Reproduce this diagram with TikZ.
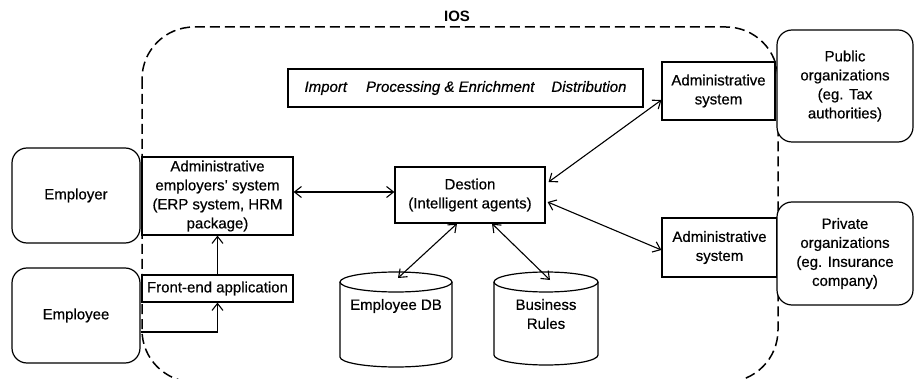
\documentclass[tikz,border=0pt]{standalone}
\usepackage{fontspec}
\setmainfont{Liberation Sans}[UprightFeatures={FakeBold=0.5},ItalicFeatures={FakeBold=0.5}]
\usetikzlibrary{arrows.meta}
\begin{document}
\begin{tikzpicture}[x=1pt,y=-1pt,
  every node/.style={font=\fontsize{15}{19}\selectfont},
  box/.style={draw,line width=1.2pt,align=center,inner sep=0pt},
  rbox/.style={box,rounded corners=15pt},
  conn/.style={line width=1.1pt},
  tip/.style={-{Straight Barb[length=7pt,width=11pt,line width=1.1pt]}},
  dtip/.style={{Straight Barb[length=7pt,width=11pt,line width=1.1pt]}-{Straight Barb[length=7pt,width=11pt,line width=1.1pt]}},
  ios/.style={line width=1.5pt,dash pattern=on 10pt off 5pt,rounded corners=52pt},
  cyl/.style={line width=1.2pt}]
\useasboundingbox (0,0) rectangle (915,379);
% IOS boundary
\draw[ios] (142,27) rectangle (778,382);
\node[font=\fontsize{15}{19}\selectfont\bfseries,inner sep=1pt] (ioslabel) at (457,16) {IOS};
% boxes
\node[rbox,minimum width=128,minimum height=95] (employer) at (76,195.5) {Employer};
\node[rbox,minimum width=128,minimum height=95] (employee) at (76,315.5) {Employee};
\node[box,fill=white,minimum width=151,minimum height=78] (admemp) at (217.5,196) {Administrative\\employers' system\\(ERP system, HRM\\package)};
\node[box,fill=white,minimum width=151,minimum height=27] (fe) at (217.5,288.5) {Front-end application};
\node[box,minimum width=355,minimum height=38] (proc) at (465.5,88) {\itshape Import\hspace{19pt}Processing \& Enrichment\hspace{17pt}Distribution};
\node[box,minimum width=150,minimum height=56] (dest) at (470,195) {Destion\\(Intelligent agents)};
\node[box,fill=white,minimum width=113,minimum height=58] (adm1) at (718.5,91) {Administrative\\system};
\node[box,fill=white,minimum width=115,minimum height=59] (adm2) at (719.5,247.5) {Administrative\\system};
\node[rbox,fill=white,minimum width=136,minimum height=112] (pub) at (845,86) {Public\\organizations\\(eg. Tax\\authorities)};
\node[rbox,fill=white,minimum width=136,minimum height=103] (priv) at (845,253.5) {Private\\organizations\\(eg. Insurance\\company)};
% cylinders
\draw[cyl] (396,282) ellipse[x radius=56,y radius=10];
\draw[cyl] (340,282) -- (340,357) arc[start angle=180,end angle=0,x radius=56,y radius=10] -- (452,282);
\node (db) at (396,306) {Employee DB};
\coordinate (dbtop) at (398,278);
\draw[cyl] (546,282) ellipse[x radius=52,y radius=10];
\draw[cyl] (494,282) -- (494,355) arc[start angle=180,end angle=0,x radius=52,y radius=10] -- (598,282);
\node[align=center] (br) at (546,314) {Business\\Rules};
\coordinate (brtop) at (550,280);
% connectors
\draw[conn,dtip] ([yshift=4pt]admemp.east) -- ([yshift=3pt]dest.west);
\draw[conn,dtip] ([xshift=3pt,yshift=13pt]dest.east) -- ([yshift=-9pt]adm1.west);
\draw[conn,dtip] ([xshift=2pt,yshift=-7pt]dest.east) -- ([yshift=-2.5pt]adm2.west);
\draw[conn,dtip] ([xshift=-13pt]dest.south) -- (dbtop);
\draw[conn,dtip] ([xshift=22pt]dest.south) -- (brtop);
\draw[conn,tip] (fe.north) -- (admemp.south);
\draw[conn,tip] ([yshift=-16.5pt]employee.east) -| (fe.south);
\end{tikzpicture}
\end{document}
